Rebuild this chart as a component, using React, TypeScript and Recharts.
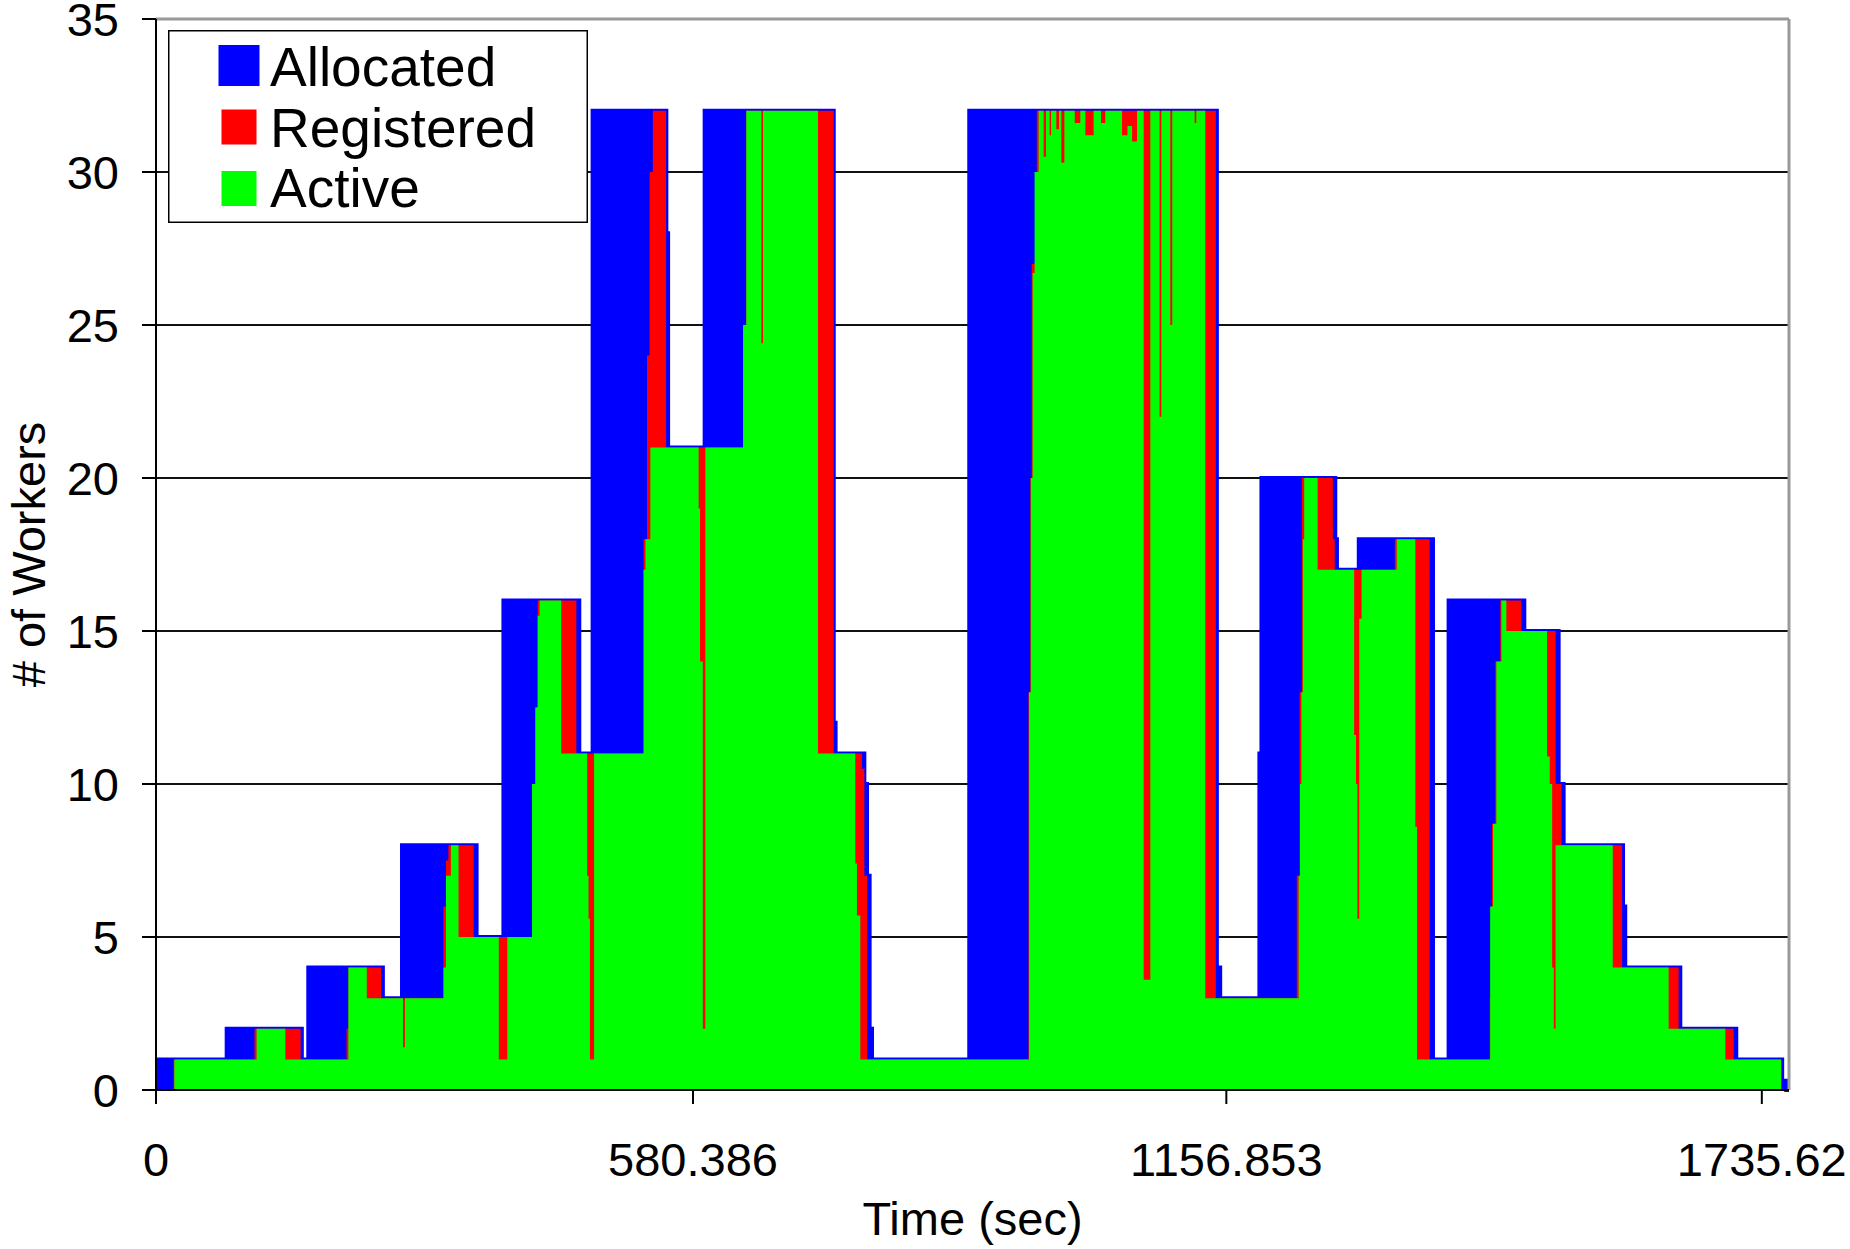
import React from "react";
import {
  ComposedChart,
  Area,
  XAxis,
  YAxis,
  CartesianGrid,
  ReferenceLine,
  Legend,
} from "recharts";

// step change points: [time in sec, number of workers]
const allocatedSteps = [
  [0, 1], [76.4, 2], [157.6, 1], [164.6, 4], [245.2, 3], [265.9, 8], [346.5, 5],
  [375.5, 16], [457.5, 11], [471.9, 32], [551.6, 28], [553.5, 21], [593, 32],
  [732.5, 12], [734.5, 11], [765.6, 10], [768.5, 7], [771.3, 2], [773.9, 1],
  [879, 32], [1146.6, 4], [1150.2, 3], [1192.6, 11], [1194.8, 20], [1274.6, 18],
  [1276.4, 17], [1300, 18], [1380.2, 1], [1397.1, 16], [1478.9, 15], [1516, 10],
  [1521.4, 8], [1585.6, 6], [1588, 4], [1647.5, 2], [1708, 1], [1757.6, 0.3],
  [1762, 0], [1765, 0],
];

const registeredSteps = [
  [0, 0], [19, 1], [106.5, 2], [156.3, 1], [205.9, 2], [207.9, 4], [243.2, 3],
  [310.7, 6], [313.4, 7.5], [316, 8], [343.3, 5], [406.4, 10], [410, 12.5],
  [412.5, 16], [454.3, 11], [527, 18], [530.7, 24], [533.5, 30], [537, 32],
  [551.3, 21], [634.5, 25], [638, 32], [732.5, 11], [763, 10.5], [765.6, 7],
  [768.5, 1], [943, 13], [945, 20], [946.5, 27], [952, 32], [1145.5, 3],
  [1233, 7], [1236, 13], [1238.5, 20], [1272, 18], [1274, 17], [1339, 18],
  [1376.6, 1], [1441.5, 3], [1444, 8.7], [1447.6, 14], [1453, 16], [1475.7, 15],
  [1512.7, 10], [1519, 8], [1584.6, 4], [1645.7, 2], [1705.2, 1], [1757, 0],
];

const activeSteps = [
  [0, 0], [19.8, 1], [108.7, 2], [139.8, 1], [207.9, 4], [227.8, 3], [267, 1.4],
  [269, 3], [310.7, 4], [313.4, 7], [318.7, 8], [327, 5], [370.5, 1], [379.7, 5],
  [406.4, 10], [410, 12.5], [412.5, 15.5], [414.6, 16], [438, 11], [466, 7],
  [467.5, 5.6], [469, 1], [473.5, 11], [527, 17], [529, 18], [534.3, 21],
  [586.5, 19], [588, 14], [591, 2], [593.7, 21], [634.5, 25], [638, 32],
  [654.3, 24.4], [656, 32], [715.5, 11], [755.8, 7.4], [757.6, 5.7], [761.2, 1],
  [943.5, 13], [945.5, 20], [947.5, 26.7], [949.6, 30], [954, 32],
  [959.4, 30.5], [961.9, 32], [965.9, 31.2], [967.4, 32], [973.1, 31.4], [976, 32],
  [978.5, 30.3], [981.8, 32], [993, 31.6], [999, 32], [1004.5, 31.2], [1013.4, 32],
  [1021.4, 31.6], [1026, 32], [1044.1, 31.2], [1050, 31.5], [1055, 31], [1060.3, 32],
  [1067.5, 3.6], [1074.7, 32], [1084.7, 22], [1086.6, 32], [1096.3, 25], [1098.4, 32],
  [1122.6, 31.6], [1124.4, 32], [1134.1, 3], [1235, 7], [1236.5, 10], [1238, 13],
  [1239.5, 18], [1241, 20], [1255.5, 17], [1295, 11.6], [1297, 10], [1298.5, 5.6],
  [1300.5, 15.4], [1303, 17], [1341, 18], [1361.1, 8.6], [1363, 1], [1442, 6],
  [1445, 8.7], [1448.7, 14], [1454.1, 16], [1459.5, 15], [1503.5, 10.9],
  [1506.4, 10], [1509, 4], [1510.8, 2], [1512.7, 8], [1574.5, 4], [1634.9, 2],
  [1696.2, 1], [1756.4, 0],
];

const xTicks = [0, 580.386, 1156.853, 1735.62];
const yTicks = [0, 5, 10, 15, 20, 25, 30, 35];
const legendOrder = ["allocated", "registered", "active"];

const valueAt = (steps: number[][], t: number) => {
  let v = 0;
  for (const [st, sv] of steps) {
    if (st <= t) v = sv;
    else break;
  }
  return v;
};

const times = Array.from(
  new Set([...allocatedSteps, ...registeredSteps, ...activeSteps].map((p) => p[0]))
).sort((a, b) => a - b);

const data = times.map((t) => ({
  t,
  allocated: valueAt(allocatedSteps, t),
  registered: valueAt(registeredSteps, t),
  active: valueAt(activeSteps, t),
}));

const font = "'Liberation Sans', Arial, sans-serif";
const colors: Record<string, string> = {
  allocated: "#0000ff",
  registered: "#ff0000",
  active: "#00ff00",
};

// @ts-ignore
const LegendBox = ({ payload }) => {
  const items = [...(payload || [])].sort(
    // @ts-ignore
    (a, b) => legendOrder.indexOf(a.dataKey) - legendOrder.indexOf(b.dataKey)
  );
  return (
    <svg width={420} height={193} style={{ display: "block" }}>
      <rect x={0.75} y={0.75} width={418.5} height={191.5} fill="#fff" stroke="#000" strokeWidth={1.5} />
      {items.map((entry, i) => {
        const key = entry.dataKey as string;
        const big = key === "allocated";
        const cy = 35.5 + i * 61.5;
        const s = big ? 41 : 35;
        return (
          <g key={key}>
            <rect x={71 - s / 2} y={cy - s / 2} width={s} height={s} fill={colors[key]} />
            <text x={102} y={56 + i * 60.5} fontSize={55} fontFamily={font} fill="#000">
              {entry.value}
            </text>
          </g>
        );
      })}
    </svg>
  );
};

export default function App() {
  return (
    <div style={{ position: "absolute", left: 0, top: 0, background: "#fff" }}>
      <ComposedChart
        width={1850}
        height={1249}
        data={data}
        margin={{ top: 19, right: 61, bottom: 0, left: 0 }}
      >
        <CartesianGrid vertical={false} stroke="#111" strokeWidth={2} />
        <Area
          type="stepAfter"
          dataKey="allocated"
          name="Allocated"
          fill="#0000ff"
          fillOpacity={1}
          stroke="#0000ff"
          strokeWidth={4}
          dot={false}
          activeDot={false}
          isAnimationActive={false}
        />
        <Area
          type="stepAfter"
          dataKey="registered"
          name="Registered"
          fill="#ff0000"
          fillOpacity={1}
          stroke="none"
          dot={false}
          activeDot={false}
          isAnimationActive={false}
        />
        <Area
          type="stepAfter"
          dataKey="active"
          name="Active"
          fill="#00ff00"
          fillOpacity={1}
          stroke="none"
          dot={false}
          activeDot={false}
          isAnimationActive={false}
        />
        <ReferenceLine y={35} stroke="#999" strokeWidth={3} />
        <ReferenceLine x={1765} stroke="#999" strokeWidth={3} />
        <XAxis
          dataKey="t"
          type="number"
          domain={[0, 1765]}
          ticks={xTicks}
          interval={0}
          height={159}
          tickSize={14}
          tickMargin={39}
          axisLine={{ stroke: "#000", strokeWidth: 2 }}
          tickLine={{ stroke: "#000", strokeWidth: 2 }}
          tick={{ fill: "#000", fontSize: 47, fontFamily: font }}
          label={{
            value: "Time (sec)",
            position: "insideBottom",
            offset: 14,
            fill: "#000",
            fontSize: 47,
            fontFamily: font,
          }}
        />
        <YAxis
          type="number"
          domain={[0, 35]}
          ticks={yTicks}
          interval={0}
          width={156}
          tickSize={14}
          tickMargin={23}
          axisLine={{ stroke: "#000", strokeWidth: 2 }}
          tickLine={{ stroke: "#000", strokeWidth: 2 }}
          tick={{ fill: "#000", fontSize: 47, fontFamily: font }}
          label={{
            value: "# of Workers",
            angle: -90,
            position: "insideLeft",
            offset: 28,
            fill: "#000",
            fontSize: 47,
            fontFamily: font,
            style: { textAnchor: "middle" },
          }}
        />
        <Legend
          layout="vertical"
          align="center"
          verticalAlign="middle"
          // @ts-ignore
          content={<LegendBox />}
          wrapperStyle={{ left: 168, top: 30, width: 420, height: 193 }}
        />
      </ComposedChart>
    </div>
  );
}
